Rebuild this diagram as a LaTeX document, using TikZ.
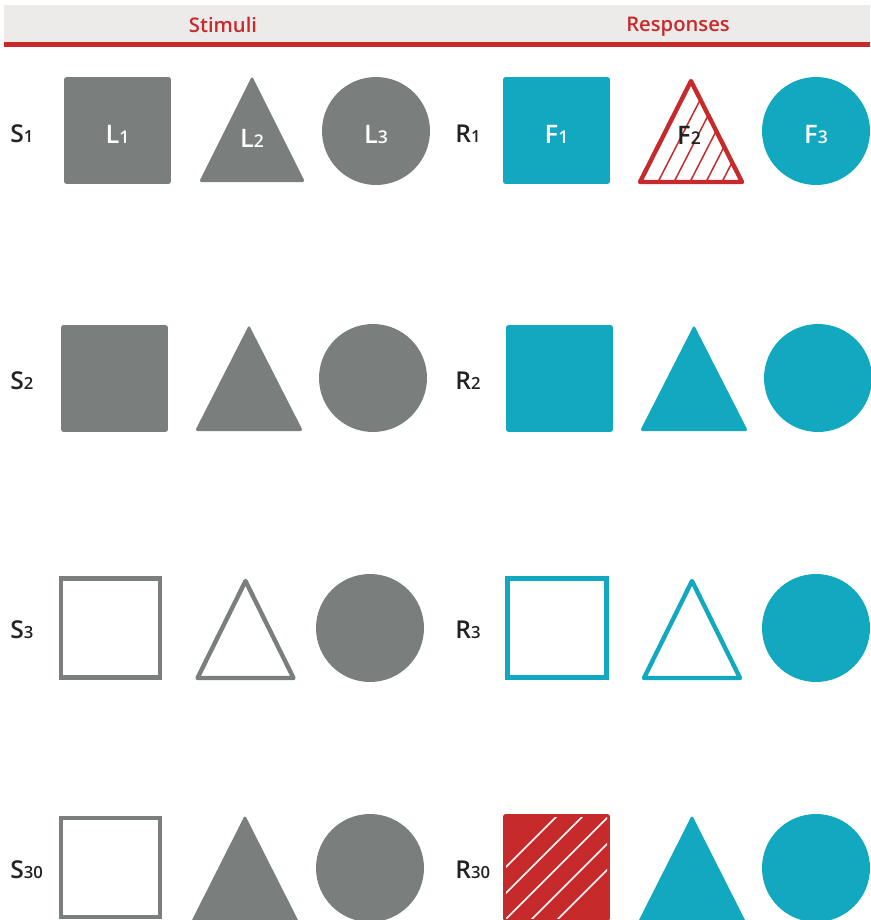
\documentclass[tikz,border=0pt]{standalone}
\usepackage{fontspec}
\setmainfont{Open Sans}
\IfFontExistsTF{Open Sans SemiBold}
  {\newfontfamily\semib{Open Sans SemiBold}}
  {\IfFontExistsTF{Open Sans Semibold}
    {\newfontfamily\semib{Open Sans Semibold}}
    {\newfontfamily\semib{Open Sans}[FakeBold=1.2]}}
\usetikzlibrary{positioning}
\definecolor{stimgray}{RGB}{122, 127, 126}
\definecolor{resteal}{RGB}{18, 169, 192}
\definecolor{errred}{RGB}{199, 42, 43}
\definecolor{hdrbg}{RGB}{237, 235, 233}
\definecolor{lbldark}{RGB}{34, 34, 34}

% label with a small index on the baseline
\newcommand\idx[3][9.5]{#2{\fontsize{#1}{#1}\selectfont #3}}
% triangle: style, centre x, apex y, base y, half width
\newcommand\tri[5]{\path[#1] (#2,#3) -- (#2+#5,#4) -- (#2-#5,#4) -- cycle;}

\begin{document}
\begin{tikzpicture}[x=0.02cm, y=-0.02cm,
    hdr/.style={font=\semib\fontsize{11.5}{11.5}\selectfont, text=errred},
    rowlbl/.style={anchor=west, inner sep=0pt, font=\semib\fontsize{14}{14}\selectfont, text=lbldark},
    inlbl/.style={inner sep=0pt, font=\semib\fontsize{14.5}{14.5}\selectfont, text=white},
    sqfill/.style={rectangle, fill=#1, rounded corners=1.5pt, minimum size=2.14cm, inner sep=0pt},
    sqline/.style={rectangle, draw=#1, line width=2.5pt, minimum size=1.98cm, inner sep=0pt},
    disc/.style={circle, fill=#1, minimum size=2.16cm, inner sep=0pt},
    trifill/.style={fill=#1, rounded corners=1.5pt},
    triline/.style={draw=#1, line width=2.5pt, line join=round},
    hatch/.style={draw=#1, line width=0.85pt}
  ]
  \useasboundingbox (0,0) rectangle (870,920);

  % header
  \fill[hdrbg] (4,5) rectangle (870,43);
  \fill[errred] (4,42) rectangle (870,46.5);
  \node[hdr] (hstim) at (223,25) {Stimuli};
  \node[hdr] (hresp) at (678,27) {Responses};

  % row 1
  \node[rowlbl] (s1) at (10,134) {\idx{S}{1}};
  \node[sqfill=stimgray] (s1a) at (117.5,130.5) {};
  \tri{trifill=stimgray}{252}{76}{182}{53}
  \node[disc=stimgray] (s1c) at (376,131) {};
  \node[inlbl] (l1) at (117.5,134) {\idx[10]{L}{1}};
  \node[inlbl] (l2) at (252,138) {\idx[10]{L}{2}};
  \node[inlbl] (l3) at (376,134) {\idx[10]{L}{3}};

  \node[rowlbl] (r1) at (455,134) {\idx{R}{1}};
  \node[sqfill=resteal] (r1a) at (556.5,130.5) {};
  \begin{scope}
    \clip (691,81) -- (742,182) -- (640,182) -- cycle;
    \foreach \b in {658,674,690,706,722}
      \draw[hatch=errred] (\b,182) -- ++(60,-117);
  \end{scope}
  \tri{triline=errred}{691}{81}{182}{51}
  \node[disc=resteal] (r1c) at (816,131) {};
  \node[inlbl] (f1) at (556.5,134) {\idx[10]{F}{1}};
  \node[inlbl, text=lbldark] (f2) at (689,135) {\idx[10]{F}{2}};
  \node[inlbl] (f3) at (816,134) {\idx[10]{F}{3}};

  % row 2
  \node[rowlbl] (s2) at (10,381) {\idx{S}{2}};
  \node[sqfill=stimgray] (s2a) at (114.5,378.5) {};
  \tri{trifill=stimgray}{249}{325}{431}{54}
  \node[disc=stimgray] (s2c) at (373,378) {};

  \node[rowlbl] (r2) at (455,381) {\idx{R}{2}};
  \node[sqfill=resteal] (r2a) at (559.5,378.5) {};
  \tri{trifill=resteal}{694}{325}{431}{54}
  \node[disc=resteal] (r2c) at (818,378) {};

  % row 3
  \node[rowlbl] (s3) at (10,630) {\idx{S}{3}};
  \node[sqline=stimgray] (s3a) at (110.5,628) {};
  \tri{triline=stimgray}{245.5}{581}{678}{48}
  \node[disc=stimgray] (s3c) at (370,628) {};

  \node[rowlbl] (r3) at (455,630) {\idx{R}{3}};
  \node[sqline=resteal] (r3a) at (557,628) {};
  \tri{triline=resteal}{692}{581}{678}{48}
  \node[disc=resteal] (r3c) at (816,628) {};

  % row 30
  \node[rowlbl] (s30) at (10,870) {\idx{S}{30}};
  \node[sqline=stimgray] (s30a) at (110.5,867.5) {};
  \tri{trifill=stimgray}{245}{815}{922}{54}
  \node[disc=stimgray] (s30c) at (370,868) {};

  \node[rowlbl] (r30) at (455,870) {\idx{R}{30}};
  \node[sqfill=errred] (r30a) at (556.5,867.5) {};
  \begin{scope}
    \clip (506,817) rectangle (607,918);
    \foreach \c in {1373,1399,1425,1451,1477}
      \draw[hatch=white] (480,\c-480) -- (640,\c-640);
  \end{scope}
  \tri{trifill=resteal}{692}{815}{922}{54}
  \node[disc=resteal] (r30c) at (816,868) {};
\end{tikzpicture}
\end{document}
